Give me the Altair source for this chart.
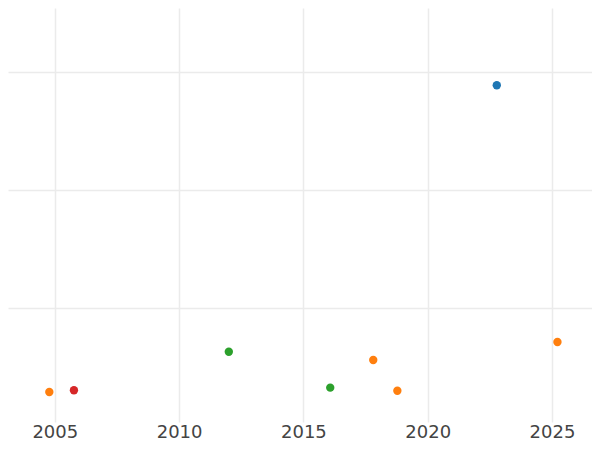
import altair as alt
import pandas as pd

years = [2004.78, 2005.77, 2012.0, 2016.08, 2017.81, 2018.78, 2022.78, 2025.22]
values = [29.5, 31.0, 63.5, 33.2, 56.5, 30.6, 288.4, 71.7]
groups = ["B", "D", "C", "C", "B", "B", "A", "B"]

group_names = ["A", "B", "C", "D"]
group_colors = ["#1f77b4", "#ff7f0e", "#2ca02c", "#d62728"]
x_ticks = [2005, 2010, 2015, 2020, 2025]
y_ticks = [100, 200, 300]

df = pd.DataFrame({"year": years, "value": values, "group": groups})

chart = (
    alt.Chart(df)
    .mark_circle(size=70, opacity=1)
    .encode(
        x=alt.X(
            "year:Q",
            scale=alt.Scale(domain=[2003.1175, 2026.61], nice=False, zero=False),
            axis=alt.Axis(
                values=x_ticks,
                format="d",
                title=None,
                ticks=False,
                domain=False,
                labelFontSize=18,
                labelFont="DejaVu Sans",
                labelColor="#444444",
                labelPadding=1,
                gridColor="#ebebeb",
                gridWidth=1.5,
            ),
        ),
        y=alt.Y(
            "value:Q",
            scale=alt.Scale(domain=[4.2, 353.6], nice=False, zero=False),
            axis=alt.Axis(
                values=y_ticks,
                title=None,
                ticks=False,
                domain=False,
                labels=False,
                gridColor="#ebebeb",
                gridWidth=1.5,
            ),
        ),
        color=alt.Color(
            "group:N",
            scale=alt.Scale(domain=group_names, range=group_colors),
            legend=None,
        ),
    )
    .properties(width=584, height=414, padding=0)
    .configure_view(stroke=None)
)

chart.save("out.html", embed_options={"renderer": "svg", "actions": False})
